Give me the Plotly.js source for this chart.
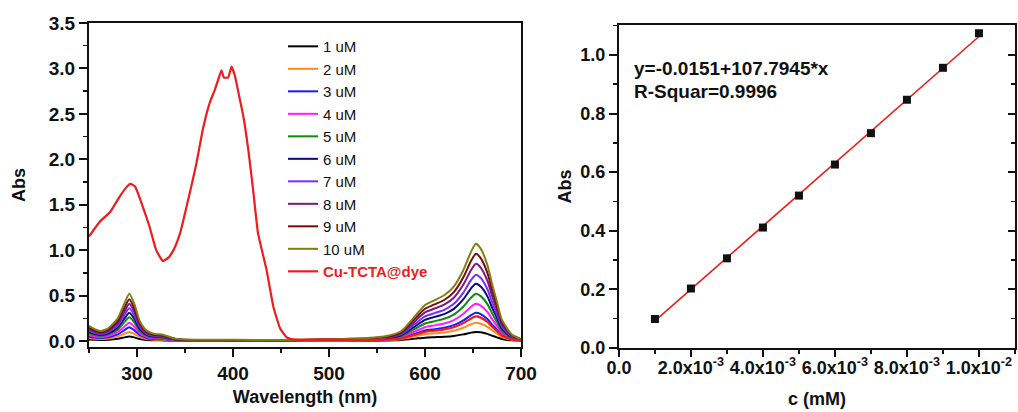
<!DOCTYPE html>
<html>
<head>
<meta charset="utf-8">
<script src="https://cdn.plot.ly/plotly-3.0.1.min.js"></script>
<style>html,body{margin:0;padding:0;background:#fff;}#chart{width:1018px;height:412px;}</style>
</head>
<body>
<div id="chart"></div>
<script>
// ---------- Left panel: UV-Vis spectra ----------
const wavelength = [250,256,262,270,280,287,292,297,303,310,318,325,332,340,350,400,450,500,540,560,575,590,600,610,620,630,640,648,653,658,665,670,675,680,690,700];
const seriesNames = ['1 uM','2 uM','3 uM','4 uM','5 uM','6 uM','7 uM','8 uM','9 uM','10 uM'];
const seriesColors = ['#000000','#ff8a1e','#1a1aff','#ff1aff','#118811','#0a0a80','#7a2cff','#7a1a86','#7a0a0a','#7f7f14'];
const abs1  = [0.016,0.013,0.011,0.014,0.024,0.040,0.050,0.040,0.021,0.011,0.008,0.007,0.005,0.003,0.002,0.004,0.004,0.006,0.003,0.005,0.010,0.026,0.037,0.042,0.047,0.056,0.073,0.092,0.100,0.095,0.078,0.058,0.040,0.022,0.007,0.002];
const abs2  = [0.032,0.025,0.021,0.027,0.048,0.080,0.100,0.080,0.042,0.022,0.015,0.014,0.010,0.005,0.003,0.005,0.004,0.008,0.006,0.010,0.020,0.052,0.074,0.084,0.094,0.112,0.146,0.184,0.200,0.190,0.156,0.116,0.080,0.044,0.014,0.004];
const abs3  = [0.048,0.038,0.032,0.041,0.072,0.120,0.150,0.120,0.063,0.033,0.023,0.021,0.015,0.008,0.005,0.006,0.005,0.009,0.009,0.016,0.031,0.081,0.115,0.130,0.146,0.174,0.226,0.285,0.310,0.295,0.242,0.180,0.124,0.068,0.022,0.006];
const abs4  = [0.064,0.050,0.042,0.054,0.096,0.160,0.200,0.160,0.084,0.044,0.030,0.028,0.020,0.010,0.006,0.007,0.006,0.010,0.012,0.021,0.041,0.107,0.152,0.172,0.193,0.230,0.299,0.377,0.410,0.390,0.320,0.238,0.164,0.090,0.029,0.008];
const abs5  = [0.083,0.065,0.055,0.070,0.125,0.208,0.260,0.208,0.109,0.057,0.039,0.036,0.026,0.013,0.008,0.008,0.007,0.012,0.016,0.026,0.052,0.135,0.192,0.218,0.244,0.291,0.380,0.478,0.520,0.494,0.406,0.302,0.208,0.114,0.036,0.010];
const abs6  = [0.099,0.078,0.065,0.084,0.149,0.248,0.310,0.248,0.130,0.068,0.047,0.043,0.031,0.016,0.009,0.009,0.007,0.013,0.019,0.032,0.063,0.164,0.233,0.265,0.296,0.353,0.460,0.580,0.630,0.599,0.491,0.365,0.252,0.139,0.044,0.013];
const abs7  = [0.115,0.090,0.076,0.097,0.173,0.288,0.360,0.288,0.151,0.079,0.054,0.050,0.036,0.018,0.011,0.010,0.008,0.014,0.022,0.037,0.073,0.190,0.270,0.307,0.343,0.409,0.533,0.672,0.730,0.694,0.569,0.423,0.292,0.161,0.051,0.015];
const abs8  = [0.131,0.103,0.086,0.111,0.197,0.328,0.410,0.328,0.172,0.090,0.062,0.057,0.041,0.021,0.012,0.011,0.009,0.015,0.026,0.043,0.085,0.221,0.315,0.357,0.400,0.476,0.621,0.782,0.850,0.808,0.663,0.493,0.340,0.187,0.060,0.017];
const abs9  = [0.147,0.115,0.097,0.124,0.221,0.368,0.460,0.368,0.193,0.101,0.069,0.064,0.046,0.023,0.014,0.012,0.009,0.017,0.029,0.048,0.096,0.250,0.355,0.403,0.451,0.538,0.701,0.883,0.960,0.912,0.749,0.557,0.384,0.211,0.067,0.019];
const abs10 = [0.166,0.130,0.109,0.140,0.250,0.416,0.520,0.416,0.218,0.114,0.078,0.073,0.052,0.026,0.016,0.013,0.010,0.018,0.032,0.054,0.107,0.278,0.396,0.449,0.503,0.599,0.781,0.984,1.070,1.017,0.835,0.621,0.428,0.235,0.075,0.021];
const absSeries = [abs1,abs2,abs3,abs4,abs5,abs6,abs7,abs8,abs9,abs10];

const dyeName = 'Cu-TCTA@dye';
const dyeColor = '#ee1c1c';
const dyeWavelength = [250,261,272,282,288,293,298,306,313,320,327,333,338,345,355,362,369,376,381,385,388,390.5,395,398.5,402,406.5,411,416,421,426,435,442,449,456,465,500,540,560,575,590,600,610,620,630,640,648,653,658,665,670,675,680,690,700];
const dyeAbs = [1.15,1.31,1.42,1.59,1.68,1.73,1.70,1.48,1.26,1.00,0.88,0.92,1.00,1.19,1.63,1.96,2.35,2.63,2.76,2.89,2.98,2.90,2.90,3.02,2.92,2.69,2.46,2.10,1.66,1.19,0.78,0.38,0.14,0.04,0.015,0.015,0.008,0.014,0.027,0.070,0.100,0.113,0.127,0.151,0.197,0.248,0.270,0.257,0.211,0.157,0.108,0.059,0.019,0.005];

// ---------- Right panel: calibration ----------
const conc = [0.001,0.002,0.003,0.004,0.005,0.006,0.007,0.008,0.009,0.010];
const absPeak = [0.099,0.203,0.306,0.411,0.520,0.626,0.733,0.847,0.956,1.074];
const fitIntercept = -0.0151;
const fitSlope = 107.7945;
const fitText = ['y=-0.0151+107.7945*x','R-Squar=0.9996'];
const xTickVals = [0,0.002,0.004,0.006,0.008,0.010];
const xTickText = ['0.0','2.0x10<sup>-3</sup>','4.0x10<sup>-3</sup>','6.0x10<sup>-3</sup>','8.0x10<sup>-3</sup>','1.0x10<sup>-2</sup>'];

const FONT = 'Liberation Sans, Arial, sans-serif';
const traces = [];
absSeries.forEach((ys, i) => {
  traces.push({x: wavelength, y: ys, type:'scatter', mode:'lines', name: seriesNames[i],
    line:{color: seriesColors[i], width:2, shape:'spline', smoothing:0.6}, xaxis:'x', yaxis:'y'});
});
traces.push({x: dyeWavelength, y: dyeAbs, type:'scatter', mode:'lines',
  name: '<b><span style="color:' + dyeColor + '">' + dyeName + '</span></b>',
  line:{color: dyeColor, width:2.2, shape:'spline', smoothing:0.4}, xaxis:'x', yaxis:'y'});

const fitX = [conc[0], conc[conc.length-1]];
const fitY = fitX.map(v => fitIntercept + fitSlope * v);
traces.push({x: fitX, y: fitY, type:'scatter', mode:'lines', showlegend:false,
  line:{color:'#e8201a', width:1.6}, xaxis:'x2', yaxis:'y2'});
traces.push({x: conc, y: absPeak, type:'scatter', mode:'markers', showlegend:false,
  marker:{symbol:'square', size:8, color:'#111'}, xaxis:'x2', yaxis:'y2'});
// invisible trace carrying the right-side inside ticks
traces.push({x: conc, y: absPeak, type:'scatter', mode:'none', showlegend:false, hoverinfo:'skip', xaxis:'x2', yaxis:'y3'});

const tickFontL = {family: FONT, size: 19, color:'#111', weight:'bold'};
const tickFontR = {family: FONT, size: 18, color:'#111', weight:'bold'};
const titleFont = {family: FONT, size: 18, color:'#111', weight:'bold'};
const axBase = {showgrid:false, zeroline:false, showline:true, linecolor:'#111', linewidth:2,
  ticks:'outside', tickcolor:'#111', tickwidth:2, ticklen:8};
const minorOut = {ticks:'outside', ticklen:4, tickcolor:'#111', tickwidth:1.5};

const layout = {
  width:1018, height:412,
  margin:{l:0, r:0, t:0, b:0},
  paper_bgcolor:'#fff', plot_bgcolor:'#fff',
  showlegend:true,
  legend:{x:0.278, y:0.927, xanchor:'left', yanchor:'top', bgcolor:'rgba(0,0,0,0)',
    font:{family: FONT, size:15, color:'#111'}, tracegroupgap:0, itemwidth:30},
  xaxis: Object.assign({}, axBase, {domain:[0.0874,0.5118], range:[250,700], anchor:'y',
    dtick:100, tick0:300, mirror:true, tickfont:tickFontL,
    minor:Object.assign({dtick:50, tick0:250}, minorOut),
    title:{text:'Wavelength (nm)', font:titleFont, standoff:8}}),
  yaxis: Object.assign({}, axBase, {domain:[0.1578,0.9442], range:[-0.066,3.5], anchor:'x',
    dtick:0.5, tick0:0, tickformat:'.1f', mirror:true, tickfont:tickFontL,
    minor:Object.assign({dtick:0.25, tick0:0}, minorOut),
    title:{text:'Abs', font:titleFont, standoff:18}}),
  xaxis2: Object.assign({}, axBase, {domain:[0.608,0.997], range:[0,0.011], anchor:'y2',
    tickvals:xTickVals, ticktext:xTickText, mirror:true, tickfont:tickFontR, ticklen:7,
    ticklabelstandoff:-5,
    minor:Object.assign({dtick:0.001, tick0:0}, minorOut),
    title:{text:'c (mM)', font:titleFont, standoff:16}}),
  yaxis2: Object.assign({}, axBase, {domain:[0.1553,0.9393], range:[0,1.102], anchor:'x2',
    dtick:0.2, tick0:0, tickformat:'.1f', mirror:true, tickfont:tickFontR,
    minor:Object.assign({dtick:0.1, tick0:0}, minorOut),
    title:{text:'Abs', font:titleFont, standoff:4}}),
  yaxis3: {overlaying:'y2', side:'right', anchor:'x2', range:[0,1.102], showgrid:false, zeroline:false,
    showline:false, ticks:'inside', ticklen:7, tickwidth:2, tickcolor:'#111', dtick:0.2, tick0:0,
    showticklabels:false,
    minor:{dtick:0.1, tick0:0, ticks:'inside', ticklen:4, tickcolor:'#111', tickwidth:1.5}},
  annotations:[
    {xref:'paper', yref:'paper', x:0.621, y:1-68/412, xanchor:'left', yanchor:'middle', showarrow:false,
     text:'<b>' + fitText[0] + '</b>', font:{family:FONT, size:19, color:'#111'}},
    {xref:'paper', yref:'paper', x:0.621, y:1-91/412, xanchor:'left', yanchor:'middle', showarrow:false,
     text:'<b>' + fitText[1] + '</b>', font:{family:FONT, size:19, color:'#111'}}
  ]
};

Plotly.newPlot('chart', traces, layout, {displayModeBar:false, staticPlot:true});
</script>
</body>
</html>
